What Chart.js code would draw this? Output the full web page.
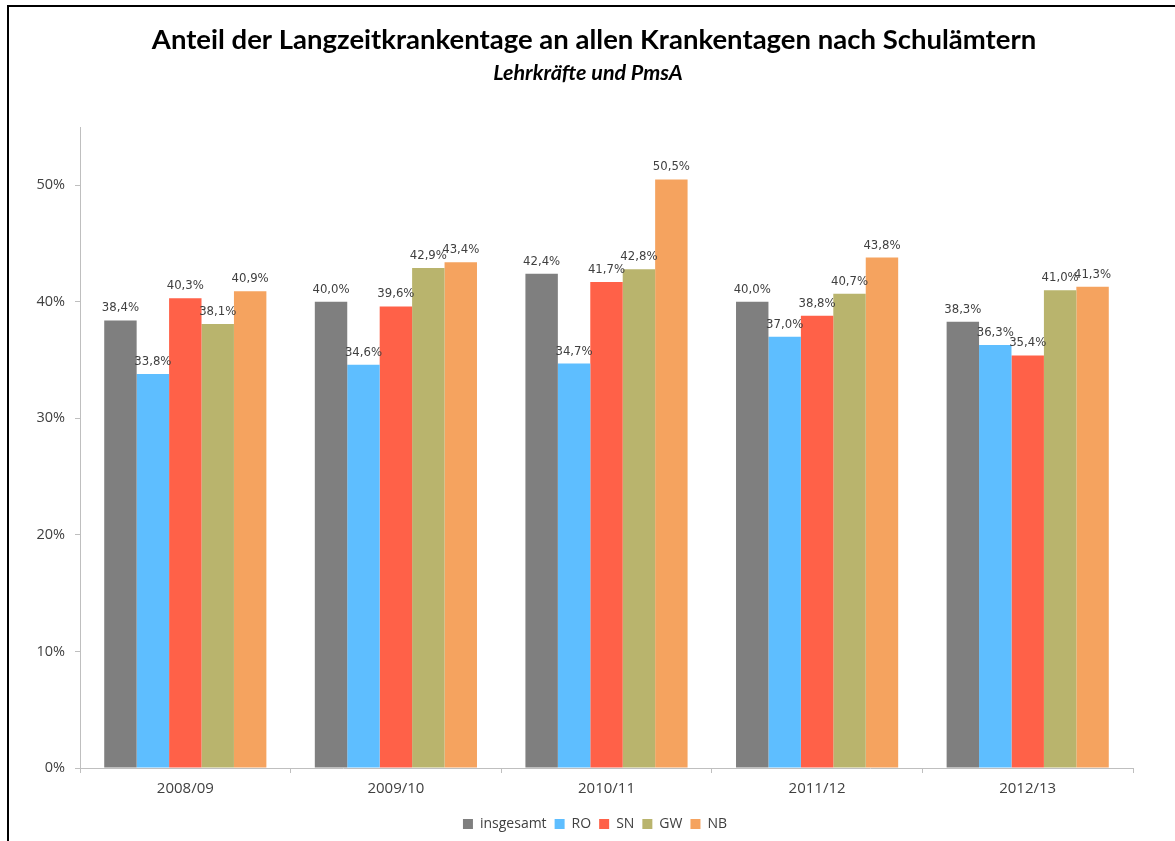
<!DOCTYPE html>
<html>
<head>
<meta charset="utf-8">
<script src="https://cdn.jsdelivr.net/npm/chart.js@4.4.1/dist/chart.umd.min.js"></script>
<style>
  html, body { margin: 0; padding: 0; background: #fff; }
  #wrap { position: relative; width: 1175px; height: 841px; }
  #frame { position: absolute; left: 7px; top: 5px; width: 1168px; height: 836px;
           border-left: 2px solid #000; border-top: 2px solid #000; box-sizing: border-box; pointer-events: none; }
  canvas { position: absolute; left: 0; top: 0; }
</style>
</head>
<body>
<div id="wrap">
  <canvas id="c" width="1175" height="841"></canvas>
  <div id="frame"></div>
</div>
<script>
const categories = ['2008/09', '2009/10', '2010/11', '2011/12', '2012/13'];
const seriesNames = ['insgesamt', 'RO', 'SN', 'GW', 'NB'];
const insgesamt = [38.4, 40.0, 42.4, 40.0, 38.3];
const ro        = [33.8, 34.6, 34.7, 37.0, 36.3];
const sn        = [40.3, 39.6, 41.7, 38.8, 35.4];
const gw        = [38.1, 42.9, 42.8, 40.7, 41.0];
const nb        = [40.9, 43.4, 50.5, 43.8, 41.3];
const yTicks = [0, 10, 20, 30, 40, 50];
const titleText = 'Anteil der Langzeitkrankentage an allen Krankentagen nach Schulämtern';
const subtitleText = 'Lehrkräfte und PmsA';

const colors = ['#7F7F7F', '#5EBEFF', '#FF6148', '#B9B46D', '#F5A35F'];
const seriesData = [insgesamt, ro, sn, gw, nb];

const fmt = v => v.toFixed(1).replace('.', ',') + '%';

const labelPlugin = {
  id: 'barLabels',
  afterDatasetsDraw(chart) {
    const ctx = chart.ctx;
    ctx.save();
    ctx.font = '13px "DejaVu Sans Condensed", "DejaVu Sans", sans-serif';
    ctx.fillStyle = '#404040';
    ctx.textAlign = 'center';
    ctx.textBaseline = 'alphabetic';
    chart.data.datasets.forEach((ds, i) => {
      const meta = chart.getDatasetMeta(i);
      meta.data.forEach((bar, j) => {
        ctx.fillText(fmt(ds.data[j]), bar.x, bar.y - 9);
      });
    });
    ctx.restore();
  }
};

const titlePlugin = {
  id: 'titles',
  afterDraw(chart) {
    const ctx = chart.ctx;
    ctx.save();
    ctx.fillStyle = '#000';
    ctx.textAlign = 'center';
    ctx.textBaseline = 'alphabetic';
    ctx.font = 'bold 27.5px Lato, "Open Sans", sans-serif';
    ctx.fillText(titleText, 594, 49);
    ctx.font = 'italic bold 21.5px Lato, "Open Sans", sans-serif';
    ctx.fillText(subtitleText, 588, 80);
    ctx.restore();
  }
};

new Chart(document.getElementById('c'), {
  type: 'bar',
  data: {
    labels: categories,
    datasets: seriesNames.map((n, i) => ({
      label: n,
      data: seriesData[i],
      backgroundColor: colors[i],
      borderWidth: 0,
      barPercentage: 1.0,
      categoryPercentage: 0.77
    }))
  },
  options: {
    responsive: false,
    animation: false,
    layout: { padding: { left: 15, right: 0, top: 127, bottom: 0 } },
    plugins: {
      legend: {
        position: 'bottom',
        labels: {
          boxWidth: 10, boxHeight: 10, padding: 8,
          color: '#404040',
          font: { family: '"Open Sans", sans-serif', size: 14 }
        }
      },
      tooltip: { enabled: false },
      title: { display: false }
    },
    scales: {
      x: {
        grid: { display: true, drawOnChartArea: false, drawTicks: true, tickLength: 5, color: '#BFBFBF', offset: true },
        border: { color: '#BFBFBF', width: 1 },
        ticks: { color: '#404040', padding: 7, font: { family: '"Open Sans", sans-serif', size: 15 } },
        afterFit(s) { s.height = 41; }
      },
      y: {
        min: 0, max: 55,
        bounds: 'data',
        grid: { display: true, drawOnChartArea: false, drawTicks: true, tickLength: 5, color: '#BFBFBF' },
        border: { color: '#BFBFBF', width: 1 },
        afterBuildTicks(s) { s.ticks = yTicks.map(v => ({ value: v })); },
        ticks: {
          color: '#404040', padding: 10,
          font: { family: '"Open Sans", sans-serif', size: 14.5 },
          callback: v => v + '%'
        },
        afterFit(s) { s.width = 65; }
      },
      yRight: {
        position: 'right',
        min: 0, max: 55,
        grid: { display: false, drawOnChartArea: false, drawTicks: false },
        border: { display: false },
        ticks: { display: false },
        afterFit(s) { s.width = 42; }
      }
    }
  },
  plugins: [labelPlugin, titlePlugin]
});
</script>
</body>
</html>
